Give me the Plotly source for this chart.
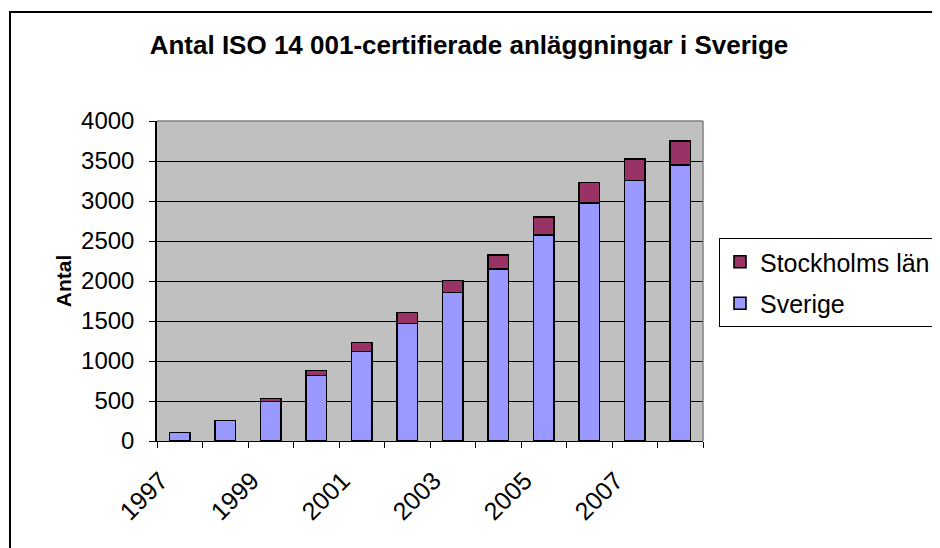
import plotly.graph_objects as go

years = [1997, 1998, 1999, 2000, 2001, 2002, 2003, 2004, 2005, 2006, 2007, 2008]
sverige = [105, 255, 495, 820, 1120, 1470, 1855, 2150, 2575, 2975, 3255, 3450]
stockholm = [0, 0, 35, 60, 110, 135, 150, 175, 225, 255, 270, 300]
tick_years = [1997, 1999, 2001, 2003, 2005, 2007]
tick_labels = [str(y) for y in tick_years]
y_ticks = [0, 500, 1000, 1500, 2000, 2500, 3000, 3500, 4000]

FONT = "Liberation Sans, Arial, sans-serif"
W, H = 980, 548
OFF = 8  # page body margin offset
# plot area in screenshot pixels
PL, PR, PT, PB = 157, 703, 121, 441
L, T = PL - OFF, PT - OFF
R, B = W - (PR - OFF), H - (PB - OFF)
pw, ph = W - L - R, H - T - B

def px_x(p):
    return (p - OFF - L) / pw

def px_y(p):
    return (H - B - (p - OFF)) / ph

fig = go.Figure()
fig.add_trace(go.Bar(
    x=years, y=sverige, name="Sverige", legendgroup="b", legendrank=2,
    marker=dict(color="#9999FF", line=dict(color="black", width=1.6)),
))
fig.add_trace(go.Bar(
    x=years, y=stockholm, name="Stockholms län", legendgroup="a", legendrank=1,
    marker=dict(color="#993366", line=dict(color="black", width=1.6)),
))

fig.update_layout(
    width=W, height=H,
    margin=dict(l=L, r=R, t=T, b=B, pad=0),
    barmode="stack",
    bargap=0.55,
    paper_bgcolor="white",
    plot_bgcolor="#C0C0C0",
    font=dict(family=FONT, size=24, color="black"),
    title=dict(
        text="<b>Antal ISO 14 001-certifierade anläggningar i Sverige</b>",
        font=dict(family=FONT, size=26, color="black"),
        x=(469 - OFF) / W, xref="container", xanchor="center",
        y=1 - (45 - OFF) / H, yref="container", yanchor="middle",
    ),
    showlegend=True,
    legend=dict(
        x=px_x(719), y=px_y(238), xanchor="left", yanchor="top",
        bordercolor="black", borderwidth=1, bgcolor="white",
        font=dict(family=FONT, size=25, color="black"),
        traceorder="grouped", tracegroupgap=6,
    ),
    xaxis=dict(
        range=[1996.5, 2008.5],
        tickmode="array", tickvals=tick_years, ticktext=tick_labels,
        tickangle=-45, ticks="", showgrid=False, zeroline=False,
        showline=True, linecolor="black", linewidth=1,
        tickfont=dict(family=FONT, size=25, color="black"),
        ticklabelstandoff=14, ticklabelshift=-19,
        minor=dict(tickmode="linear", tick0=1996.5, dtick=1, ticks="outside",
                   ticklen=6, tickcolor="black", tickwidth=1, showgrid=False),
    ),
    yaxis=dict(
        range=[0, 4000], tickmode="array", tickvals=y_ticks,
        ticks="outside", ticklen=6, tickcolor="black", tickwidth=1,
        showgrid=True, gridcolor="black", gridwidth=1, zeroline=False,
        showline=True, linecolor="black", linewidth=1.5,
        tickfont=dict(family=FONT, size=24, color="black"),
        ticklabelstandoff=10,
        title=dict(text="<b>Antal</b>", font=dict(family=FONT, size=21, color="black"), standoff=4),
    ),
    shapes=[
        dict(type="line", xref="paper", yref="paper", x0=1, x1=1, y0=0, y1=1,
             line=dict(color="#808080", width=1.5)),
        dict(type="line", xref="paper", yref="paper", x0=0, x1=1, y0=1, y1=1,
             line=dict(color="#808080", width=1.5)),
        dict(type="rect", xref="paper", yref="paper",
             x0=px_x(10), x1=px_x(975), y0=px_y(570), y1=px_y(12),
             line=dict(color="black", width=2), fillcolor="rgba(0,0,0,0)", layer="above"),
    ],
)

fig.write_html("out.html")
